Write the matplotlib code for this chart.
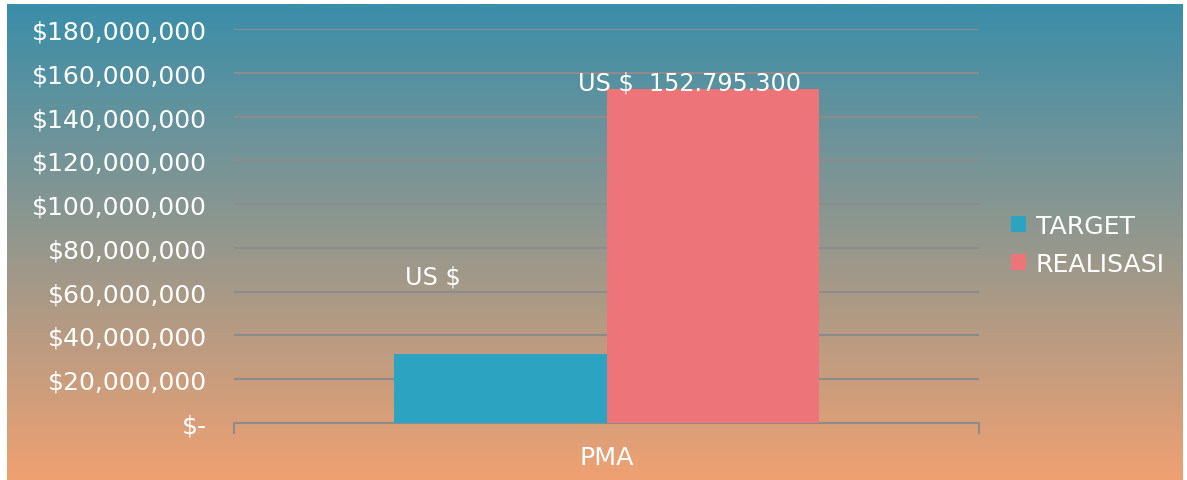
import matplotlib.pyplot as plt
import numpy as np
from matplotlib.colors import LinearSegmentedColormap
from matplotlib.ticker import FuncFormatter

# data
kategori = ['PMA']
seri = ['TARGET', 'REALISASI']
nilai = [31500000, 152795300]
label_nilai = ['US $', 'US $  152.795.300']
warna = ['#2ca3c1', '#ed7579']

fig = plt.figure(figsize=(11.87, 4.81), dpi=100)
fig.patch.set_facecolor('white')

# latar gradien (teal -> oranye)
bg = fig.add_axes([7 / 1187, 0, (1183 - 7) / 1187, 476 / 481])
cmap = LinearSegmentedColormap.from_list('bg', ['#3a8ea9', '#efa172'])
grad = np.linspace(0, 1, 256).reshape(-1, 1)
bg.imshow(grad, aspect='auto', cmap=cmap, extent=[0, 1, 0, 1])
bg.set_axis_off()
bg.set_zorder(-1)

ax = fig.add_axes([234 / 1187, 1 - 424 / 481, (979 - 234) / 1187, (424 - 30) / 481])
ax.patch.set_alpha(0)

x = np.array([-0.5, 0.5])
bars = ax.bar(x, nilai, width=1.0, color=warna, zorder=3)
for b, s in zip(bars, seri):
    b.set_label(s)

ax.set_xlim(-1.749, 1.749)
ax.set_ylim(0, 180000000)
ax.set_yticks(np.arange(0, 180000001, 20000000))
ax.yaxis.set_major_formatter(FuncFormatter(lambda v, p: '$-' if v == 0 else '${:,.0f}'.format(v)))
ax.grid(axis='y', color='#8c8c8c', linewidth=1.5, zorder=0)

ax.set_xticks([0])
ax.set_xticklabels(kategori)
ax.set_xticks([-1.749, 1.749], minor=True)
ax.tick_params(axis='x', which='major', length=0, pad=16, labelsize=18.3, labelcolor='white')
ax.tick_params(axis='x', which='minor', length=8, width=1.5, color='#8c8c8c')
ax.tick_params(axis='y', length=0, pad=19.5, labelsize=18, labelcolor='white')

for side in ['top', 'right', 'left']:
    ax.spines[side].set_visible(False)
ax.spines['bottom'].set_color('#8c8c8c')
ax.spines['bottom'].set_linewidth(1.5)

# label nilai
ax.annotate(label_nilai[0], xy=(x[0], nilai[0]), xytext=(-48, 56), textcoords='offset points',
            ha='center', va='center', color='white', fontsize=17.2)
ax.annotate(label_nilai[1], xy=(x[1], nilai[1]), xytext=(-17, 4), textcoords='offset points',
            ha='center', va='center', color='white', fontsize=17.2)

leg = ax.legend(loc='center left', bbox_to_anchor=(1.012, 0.452), frameon=False,
                fontsize=18.1, labelcolor='white', handlelength=0.6, handleheight=0.6,
                handletextpad=0.4, labelspacing=0.55)

fig.savefig('out.png', dpi=100)
